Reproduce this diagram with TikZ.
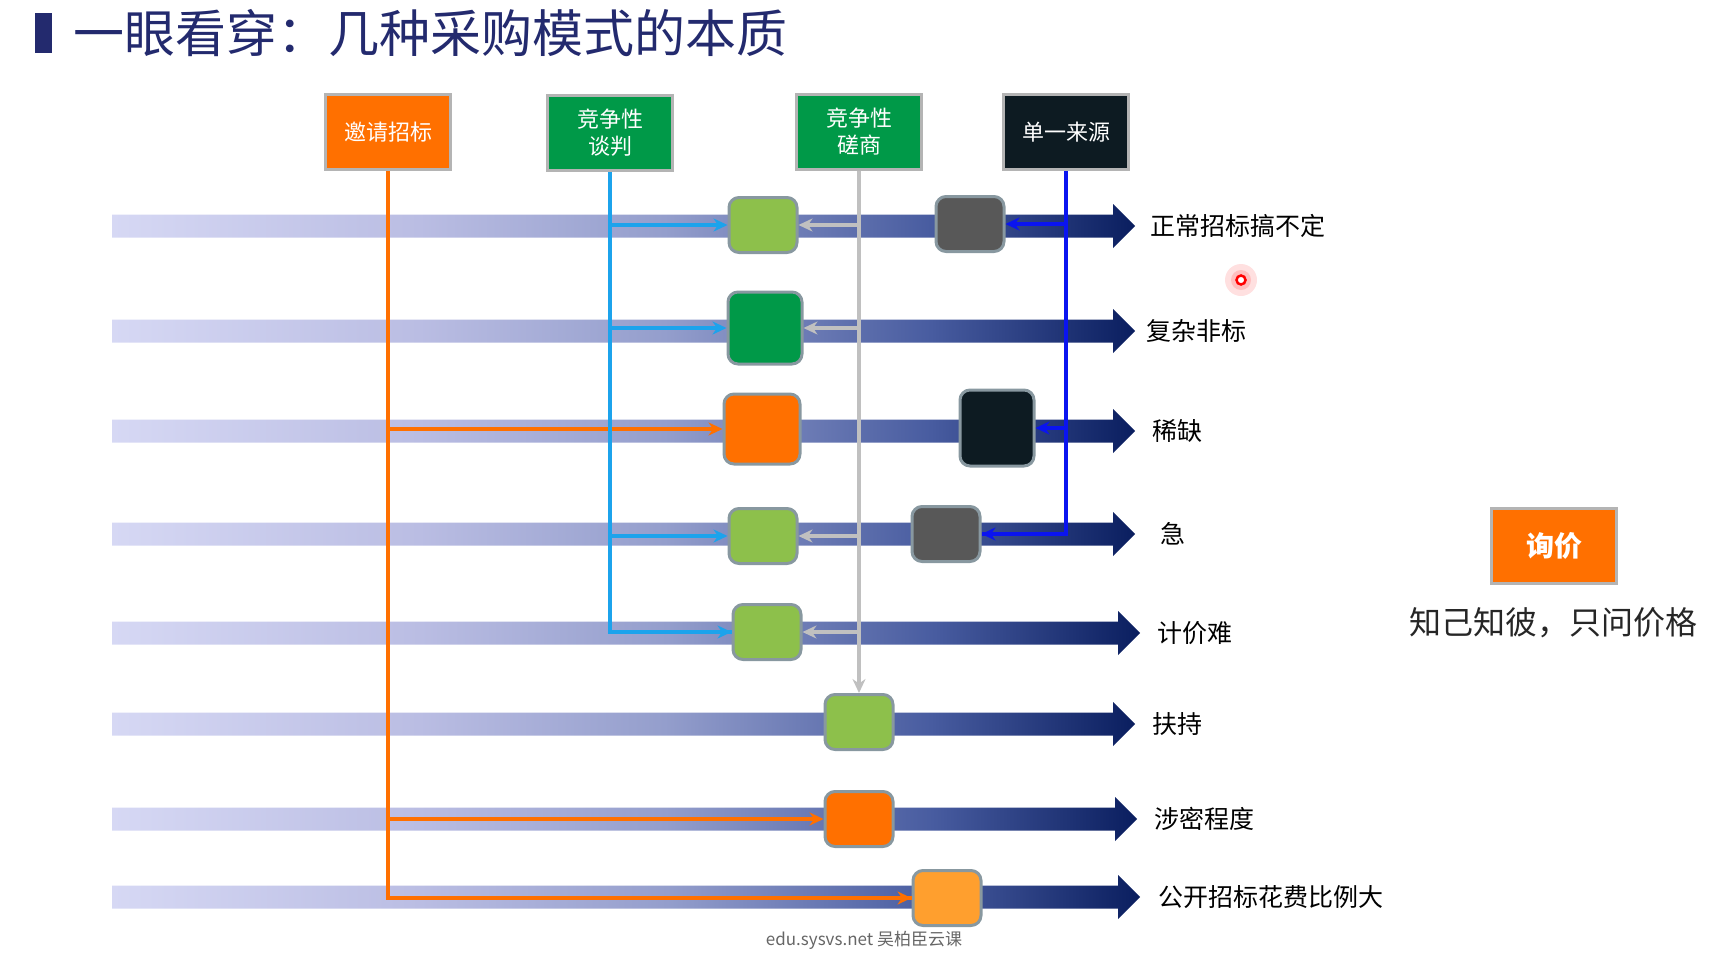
\documentclass[tikz,border=0pt]{standalone}
\usepackage{fontspec}
\setmainfont{Noto Sans CJK SC}
\usetikzlibrary{arrows.meta,positioning,calc}

\definecolor{titleBlue}{RGB}{35,42,110}
\definecolor{modeOrange}{RGB}{255,112,0}
\definecolor{modeGreen}{RGB}{0,153,72}
\definecolor{modeBlack}{RGB}{13,27,34}
\definecolor{leafGreen}{RGB}{141,192,75}
\definecolor{darkGray}{RGB}{88,88,88}
\definecolor{paleOrange}{RGB}{255,159,46}
\definecolor{edgeGray}{RGB}{180,180,180}
\definecolor{rimGray}{RGB}{136,152,160}
\definecolor{lineCyan}{RGB}{28,163,236}
\definecolor{lineBlue}{RGB}{10,20,240}
\definecolor{lineGray}{RGB}{192,192,192}
\definecolor{bandA}{RGB}{214,216,244}
\definecolor{bandB}{RGB}{186,189,227}
\definecolor{bandC}{RGB}{148,158,204}
\definecolor{bandD}{RGB}{72,92,160}
\definecolor{bandE}{RGB}{10,30,95}

\pgfdeclarehorizontalshading{bandfade}{100bp}{color(0bp)=(bandA); color(25bp)=(bandA);
  color(40bp)=(bandB); color(52bp)=(bandC); color(65bp)=(bandD); color(75bp)=(bandE); color(100bp)=(bandE)}

\tikzset{
  modebox/.style={draw=edgeGray, line width=3pt, minimum width=125pt, minimum height=75pt,
    inner sep=0pt, text=white, align=center, font=\fontsize{22}{27}\selectfont},
  markbox/.style={draw=rimGray, line width=3pt, rounded corners=10pt, inner sep=0pt,
    minimum width=68pt, minimum height=55pt},
  rowlabel/.style={anchor=west, inner sep=0pt, font=\fontsize{25}{28}\selectfont},
  feed/.style={line width=3.5pt, -{Stealth[length=14pt,width=13pt]}},
  trunk/.style={line width=3.5pt},
}

\begin{document}
\begin{tikzpicture}[x=1pt, y=-1pt]
    \useasboundingbox (0,0) rectangle (1720,964);
    % Title
    \fill[titleBlue] (35,13) rectangle (52,53);
    \node[anchor=west, inner sep=0pt, text=titleBlue, font=\fontsize{51}{56}\selectfont]
      (title) at (73,33) {一眼看穿：几种采购模式的本质};
    % Modes on top
    \node[modebox, fill=modeOrange] (yaoqing) at (388,132) {邀请招标};
    \node[modebox, fill=modeGreen] (tanpan) at (610,133) {竞争性\\谈判};
    \node[modebox, fill=modeGreen] (cuoshang) at (859,132) {竞争性\\磋商};
    \node[modebox, fill=modeBlack] (danyi) at (1066,132) {单一来源};
    % Bands with arrow heads
    \foreach \y/\t in {226/1135,331/1135,431/1135,534/1135,633/1140,724/1135,819/1137,897/1140} {
      \shade[shading=bandfade] (112,\y-11.5) -- (\t-22,\y-11.5) -- (\t-22,\y-22) -- (\t,\y)
        -- (\t-22,\y+22) -- (\t-22,\y+11.5) -- (112,\y+11.5) -- cycle;
    }
    % Row labels
    \foreach \i/\x/\y/\txt in {1/1150/226/正常招标搞不定, 2/1146/331/复杂非标, 3/1152/431/稀缺,
        4/1160/534/急, 5/1157/633/计价难, 6/1152/724/扶持, 7/1154/819/涉密程度,
        8/1158/897/公开招标花费比例大} {
      \node[rowlabel] (lab\i) at (\x,\y) {\txt};
    }
    % Marks on the bands
    \node[markbox, fill=leafGreen] (b1a) at (763,225) {};
    \node[markbox, fill=darkGray] (b1b) at (970,224) {};
    \node[markbox, fill=modeGreen, minimum width=74pt, minimum height=72pt] (b2a) at (765,328) {};
    \node[markbox, fill=modeOrange, minimum width=76pt, minimum height=70pt] (b3a) at (762,429) {};
    \node[markbox, fill=modeBlack, minimum width=74pt, minimum height=76pt] (b3b) at (997,428) {};
    \node[markbox, fill=leafGreen] (b4a) at (763,536) {};
    \node[markbox, fill=darkGray] (b4b) at (946,534) {};
    \node[markbox, fill=leafGreen] (b5a) at (767,632) {};
    \node[markbox, fill=leafGreen] (b6a) at (859,722) {};
    \node[markbox, fill=modeOrange] (b7a) at (859,819) {};
    \node[markbox, fill=paleOrange] (b8a) at (947,898) {};
    % Invited tender
    \draw[trunk, modeOrange] (yaoqing.south) |- (b8a.west);
    \draw[feed, modeOrange] (yaoqing.south |- b8a.west) -- (b8a.west);
    \foreach \b in {b3a,b7a}
      \draw[feed, modeOrange] (yaoqing.south |- \b.west) -- (\b.west);
    % Negotiation
    \draw[trunk, lineCyan] (tanpan.south) |- (b5a.west);
    \foreach \b in {b1a,b2a,b4a,b5a}
      \draw[feed, lineCyan] (tanpan.south |- \b.west) -- (\b.west);
    % Consultation
    \draw[feed, lineGray] (cuoshang.south) -- (b6a.north);
    \foreach \b in {b1a,b2a,b4a,b5a}
      \draw[feed, lineGray] (cuoshang.south |- \b.east) -- (\b.east);
    % Single source
    \draw[trunk, lineBlue] (danyi.south) |- (b4b.east);
    \foreach \b in {b1b,b3b,b4b}
      \draw[feed, lineBlue] (danyi.south |- \b.east) -- (\b.east);
    % Inquiry
    \node[modebox, fill=modeOrange, font=\fontsize{28}{32}\selectfont\bfseries] (xunjia) at (1554,546) {询价};
    \node[inner sep=0pt, text=black!85, font=\fontsize{32}{36}\selectfont] (motto) at (1553,623) {知己知彼，只问价格};
    % Pointer dot
    \fill[red!12] (1241,280) circle (16);
    \fill[red!25] (1241,280) circle (10);
    \draw[red, line width=2.5pt, fill=white] (1241,280) circle (4.5);
    % Footer
    \node[inner sep=0pt, text=black!60, font=\fontsize{17}{20}\selectfont] (footer) at (864,940) {edu.sysvs.net 吴柏臣云课};
\end{tikzpicture}
\end{document}
